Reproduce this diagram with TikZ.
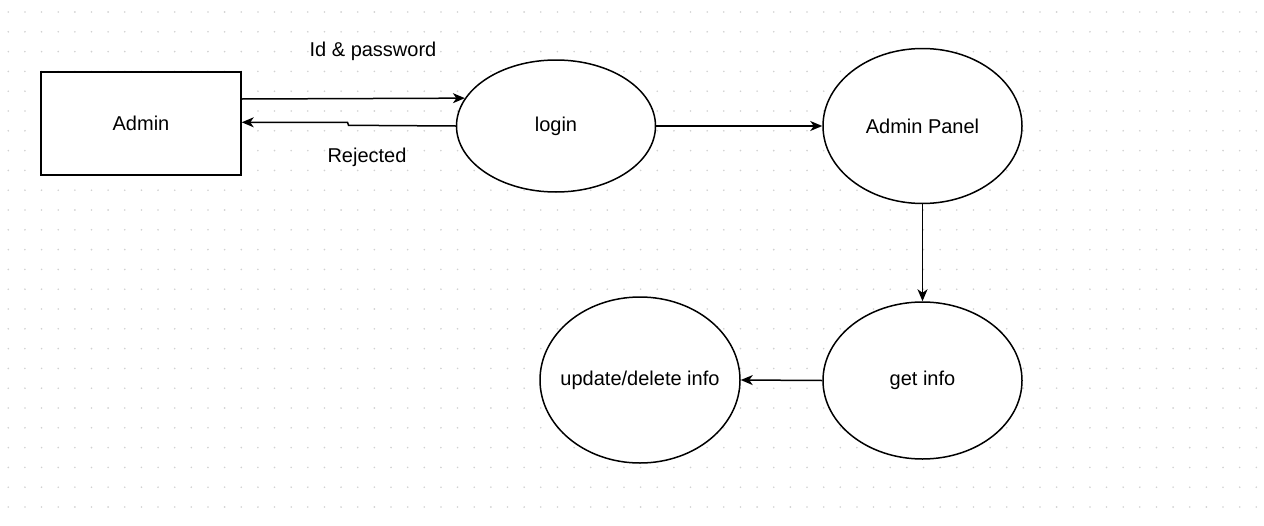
\documentclass[tikz,border=0pt]{standalone}
\usepackage{fontspec}
\setmainfont{Liberation Sans}
\usetikzlibrary{shapes.geometric,arrows.meta}
\newcommand{\zw}[1]{\makebox[0pt]{#1}}
\begin{document}
\begin{tikzpicture}[x=1pt,y=-1pt,
  every node/.style={font=\fontsize{20}{23}\selectfont},
  shp/.style={draw=black,line width=1.5pt,fill=white,inner sep=0pt},
  proc/.style={shp,ellipse},
  ent/.style={shp,rectangle},
  arr/.style={draw=black,line width=1.5pt,-{Stealth[length=12pt,width=10pt,inset=3.5pt]}},
  lbl/.style={inner sep=0pt}]
\useasboundingbox[fill=white] (0,0) rectangle (1264,525);
% dotted grid
\foreach \i in {0,...,75}{
  \foreach \j in {0,...,25}{
    \fill[black!18] ({8.3+16.64*\i},{12+19.8*\j}) circle (0.9);
  }
}
\node[ent,minimum width=200pt,minimum height=103pt] (admin) at (141,123.5) {Admin};
\node[proc,minimum width=199pt,minimum height=132pt] (login) at (556,126) {\zw{login}};
\node[proc,minimum width=199pt,minimum height=155pt] (panel) at (922.5,126) {\zw{Admin Panel}};
\node[proc,minimum width=199pt,minimum height=157pt] (get) at (922.5,380.5) {\zw{get info}};
\node[proc,minimum width=200pt,minimum height=166pt] (upd) at (640,380) {\zw{update/delete info}};
\node[lbl] (lid) at (373,51) {Id \& password};
\node[lbl] (lrej) at (367,157) {Rejected};
\coordinate (j1) at (348.5,125.3);
\coordinate (j2) at (347.5,122.3);
\draw[arr] ([yshift=24.5pt]admin.east) -- (login.163.5);
\draw[arr] (login.west) -- (j1) -- (j2) -- ([yshift=1.2pt]admin.east);
\draw[arr] (login.east) -- (panel.west);
\draw[arr] (panel.south) -- (get.north);
\draw[arr] (get.west) -- (upd.east);
\end{tikzpicture}
\end{document}
